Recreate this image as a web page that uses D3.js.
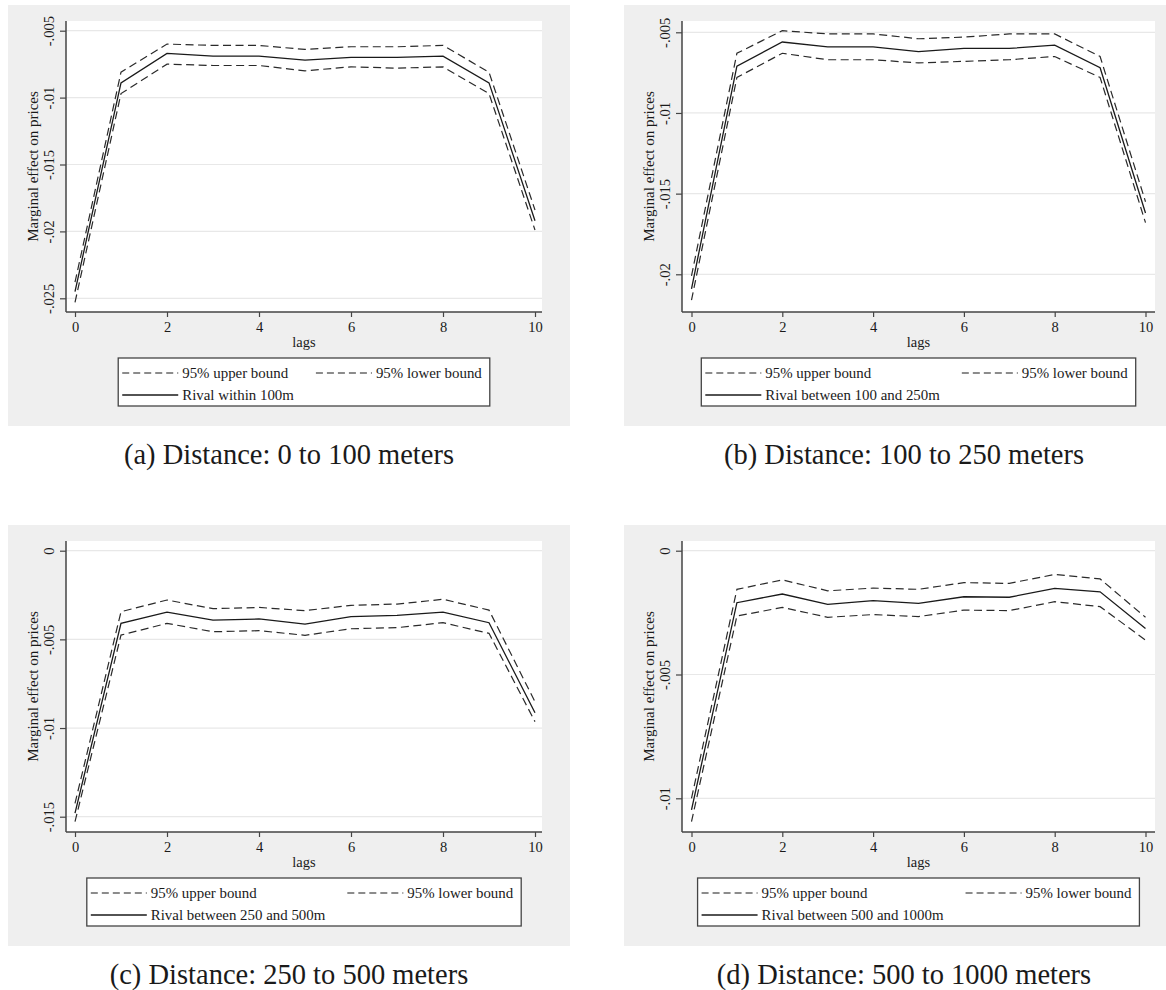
<!DOCTYPE html>
<html>
<head>
<meta charset="utf-8">
<script src="https://cdn.jsdelivr.net/npm/d3@7"></script>
<style>
  body { margin: 0; background: #fff; }
  svg { display: block; }
  text { font-family: "Liberation Serif", "Times New Roman", serif; fill: #1a1a1a; }
</style>
</head>
<body>
<svg id="fig" width="1166" height="990"></svg>
<script>
// Lags on the horizontal axis
const lags = [0, 1, 2, 3, 4, 5, 6, 7, 8, 9, 10];
const xTicks = [0, 2, 4, 6, 8, 10];

// (a) Rival within 100 m
const upperA   = [-0.0238, -0.0081, -0.0060, -0.0061, -0.0061, -0.0064, -0.0062, -0.0062, -0.0061, -0.0081, -0.0184];
const centralA = [-0.0245, -0.0089, -0.0067, -0.0069, -0.0069, -0.0072, -0.0070, -0.0070, -0.0069, -0.0089, -0.0192];
const lowerA   = [-0.0253, -0.0097, -0.0075, -0.0076, -0.0076, -0.0080, -0.0077, -0.0078, -0.0077, -0.0097, -0.0199];
const yTicksA  = [-0.025, -0.02, -0.015, -0.01, -0.005];
const yLabelsA = ["-.025", "-.02", "-.015", "-.01", "-.005"];

// (b) Rival between 100 and 250 m
const upperB   = [-0.0201, -0.0063, -0.0049, -0.0051, -0.0051, -0.0054, -0.0053, -0.0051, -0.0051, -0.0065, -0.0155];
const centralB = [-0.0209, -0.0071, -0.0056, -0.0059, -0.0059, -0.0062, -0.0060, -0.0060, -0.0058, -0.0072, -0.0162];
const lowerB   = [-0.0216, -0.0078, -0.0063, -0.0067, -0.0067, -0.0069, -0.0068, -0.0067, -0.0065, -0.0078, -0.0168];
const yTicksB  = [-0.02, -0.015, -0.01, -0.005];
const yLabelsB = ["-.02", "-.015", "-.01", "-.005"];

// (c) Rival between 250 and 500 m
const upperC   = [-0.01425, -0.00344, -0.00278, -0.00327, -0.00320, -0.00338, -0.00308, -0.00301, -0.00274, -0.00335, -0.00852];
const centralC = [-0.01480, -0.00410, -0.00346, -0.00391, -0.00385, -0.00414, -0.00372, -0.00365, -0.00346, -0.00406, -0.00914];
const lowerC   = [-0.01528, -0.00476, -0.00410, -0.00457, -0.00451, -0.00477, -0.00440, -0.00434, -0.00406, -0.00466, -0.00964];
const yTicksC  = [-0.015, -0.01, -0.005, 0];
const yLabelsC = ["-.015", "-.01", "-.005", "0"];

// (d) Rival between 500 and 1000 m
const upperD   = [-0.01000, -0.00156, -0.00118, -0.00162, -0.00151, -0.00156, -0.00129, -0.00132, -0.00096, -0.00114, -0.00269];
const centralD = [-0.01047, -0.00210, -0.00175, -0.00217, -0.00202, -0.00213, -0.00186, -0.00188, -0.00152, -0.00166, -0.00314];
const lowerD   = [-0.01094, -0.00264, -0.00229, -0.00269, -0.00258, -0.00266, -0.00240, -0.00242, -0.00206, -0.00226, -0.00361];
const yTicksD  = [-0.01, -0.005, 0];
const yLabelsD = ["-.01", "-.005", "0"];

const rivalLabels = ["Rival within 100m", "Rival between 100 and 250m",
                     "Rival between 250 and 500m", "Rival between 500 and 1000m"];
const captions = ["(a) Distance: 0 to 100 meters", "(b) Distance: 100 to 250 meters",
                  "(c) Distance: 250 to 500 meters", "(d) Distance: 500 to 1000 meters"];
const boundLabels = ["95% upper bound", "95% lower bound"];
const xTitle = "lags";
const yTitle = "Marginal effect on prices";

// Page geometry of each panel: grey frame, plot region, and pixel anchors for the scales
const layout = [
  { frame: [8, 5, 562, 421],     axisX: 66,  right: 542,  top: 21,  base: 312, xr: [75, 535],       yr: [298.3, 30.7] },
  { frame: [624, 5, 560, 421],   axisX: 682, right: 1155, top: 21,  base: 312, xr: [691.5, 1145.5], yr: [274.3, 32.3] },
  { frame: [8, 525, 562, 421],   axisX: 66,  right: 542,  top: 541, base: 832, xr: [75, 535],       yr: [816.7, 550.7] },
  { frame: [624, 525, 560, 421], axisX: 682, right: 1155, top: 541, base: 832, xr: [691.5, 1145.5], yr: [798.3, 550.7] }
];

const series = [
  { upper: upperA, central: centralA, lower: lowerA, yTicks: yTicksA, yLabels: yLabelsA },
  { upper: upperB, central: centralB, lower: lowerB, yTicks: yTicksB, yLabels: yLabelsB },
  { upper: upperC, central: centralC, lower: lowerC, yTicks: yTicksC, yLabels: yLabelsC },
  { upper: upperD, central: centralD, lower: lowerD, yTicks: yTicksD, yLabels: yLabelsD }
];

const svg = d3.select("#fig");
const DASH = "8,4.5";

series.forEach((s, i) => {
  const L = layout[i];
  const g = svg.append("g");

  // grey graph region and white plot region
  g.append("rect").attr("x", L.frame[0]).attr("y", L.frame[1])
    .attr("width", L.frame[2]).attr("height", L.frame[3]).attr("fill", "#efefef");
  g.append("rect").attr("x", L.axisX).attr("y", L.top)
    .attr("width", L.right - L.axisX).attr("height", L.base - L.top).attr("fill", "#fff");

  const x = d3.scaleLinear().domain([0, 10]).range(L.xr);
  const yMin = d3.min(s.yTicks), yMax = d3.max(s.yTicks);
  const y = d3.scaleLinear().domain([yMin, yMax]).range(L.yr);

  // horizontal grid lines
  g.append("g").selectAll("line").data(s.yTicks).join("line")
    .attr("x1", L.axisX).attr("x2", L.right)
    .attr("y1", d => y(d)).attr("y2", d => y(d))
    .attr("stroke", "#e8e8e8").attr("stroke-width", 1.2);

  // y axis
  const yAxis = d3.axisLeft(y).tickValues(s.yTicks).tickSize(6).tickPadding(4)
    .tickFormat((d, k) => s.yLabels[k]);
  const ya = g.append("g").attr("transform", `translate(${L.axisX},0)`).call(yAxis);
  ya.select(".domain").remove();
  ya.selectAll(".tick line").attr("stroke", "#444").attr("stroke-width", 1.2);
  ya.selectAll(".tick text")
    .attr("x", null).attr("dy", null)
    .attr("transform", "translate(-12,0) rotate(-90)")
    .attr("text-anchor", "middle")
    .style("font-size", "14.5px")
    .style("font-family", "\"Liberation Serif\", serif")
    .attr("fill", "#1a1a1a");
  g.append("line").attr("x1", L.axisX).attr("x2", L.axisX).attr("y1", L.top).attr("y2", L.base)
    .attr("stroke", "#444").attr("stroke-width", 1.5);

  // x axis
  const xAxis = d3.axisBottom(x).tickValues(xTicks).tickSize(5).tickPadding(5).tickFormat(d3.format("d"));
  const xa = g.append("g").attr("transform", `translate(0,${L.base})`).call(xAxis);
  xa.select(".domain").remove();
  xa.selectAll(".tick line").attr("stroke", "#444").attr("stroke-width", 1.2);
  xa.selectAll(".tick text").style("font-size", "14.5px")
    .style("font-family", "\"Liberation Serif\", serif").attr("fill", "#1a1a1a");
  g.append("line").attr("x1", L.axisX).attr("x2", L.right).attr("y1", L.base).attr("y2", L.base)
    .attr("stroke", "#444").attr("stroke-width", 1.5);

  // axis titles
  const cx = (L.axisX + L.right) / 2;
  g.append("text").attr("x", cx).attr("y", L.base + 35).attr("text-anchor", "middle")
    .style("font-size", "14.5px").text(xTitle);
  g.append("text")
    .attr("transform", `translate(${L.axisX - 28},${(L.top + L.base) / 2}) rotate(-90)`)
    .attr("text-anchor", "middle").style("font-size", "15px").text(yTitle);

  // confidence bounds and point estimate
  const line = d3.line().x((d, k) => x(lags[k])).y(d => y(d));
  g.append("path").datum(s.upper).attr("d", line).attr("fill", "none")
    .attr("stroke", "#2a2a2a").attr("stroke-width", 1.2).attr("stroke-dasharray", DASH);
  g.append("path").datum(s.lower).attr("d", line).attr("fill", "none")
    .attr("stroke", "#2a2a2a").attr("stroke-width", 1.2).attr("stroke-dasharray", DASH);
  g.append("path").datum(s.central).attr("d", line).attr("fill", "none")
    .attr("stroke", "#1a1a1a").attr("stroke-width", 1.3);

  // legend: two columns, three keys
  const fs = "14.9px";
  const probe = g.append("text").style("font-size", fs);
  const tw = t => { probe.text(t); return probe.node().getComputedTextLength(); };
  const col1W = Math.max(tw(boundLabels[0]), tw(rivalLabels[i]));
  const col2W = tw(boundLabels[1]);
  probe.remove();
  const keyW = 56, keyGap = 4, colGap = 22, padL = 4, padR = 8;
  const boxW = padL + keyW + keyGap + col1W + colGap + keyW + keyGap + col2W + padR;
  const bx = cx - boxW / 2, by = L.base + 46, bh = 48;
  const lg = g.append("g");
  lg.append("rect").attr("x", bx).attr("y", by).attr("width", boxW).attr("height", bh)
    .attr("fill", "#fff").attr("stroke", "#444").attr("stroke-width", 1.3);
  const col2X = bx + padL + keyW + keyGap + col1W + colGap;
  const keys = [
    { x: bx + padL, row: 0, label: boundLabels[0], dash: true },
    { x: col2X,     row: 0, label: boundLabels[1], dash: true },
    { x: bx + padL, row: 1, label: rivalLabels[i], dash: false }
  ];
  keys.forEach(k => {
    const ky = by + 15 + k.row * 22;
    lg.append("line").attr("x1", k.x).attr("x2", k.x + keyW).attr("y1", ky).attr("y2", ky)
      .attr("stroke", "#1a1a1a").attr("stroke-width", k.dash ? 1.1 : 1.3)
      .attr("stroke-dasharray", k.dash ? "7,4" : null);
    lg.append("text").attr("x", k.x + keyW + keyGap).attr("y", ky + 5)
      .style("font-size", fs).text(k.label);
  });

  // sub-figure caption
  g.append("text").attr("x", L.frame[0] + L.frame[2] / 2).attr("y", L.frame[1] + L.frame[3] + 38)
    .attr("text-anchor", "middle").style("font-size", "28.5px").attr("fill", "#000").text(captions[i]);
});
</script>
</body>
</html>
